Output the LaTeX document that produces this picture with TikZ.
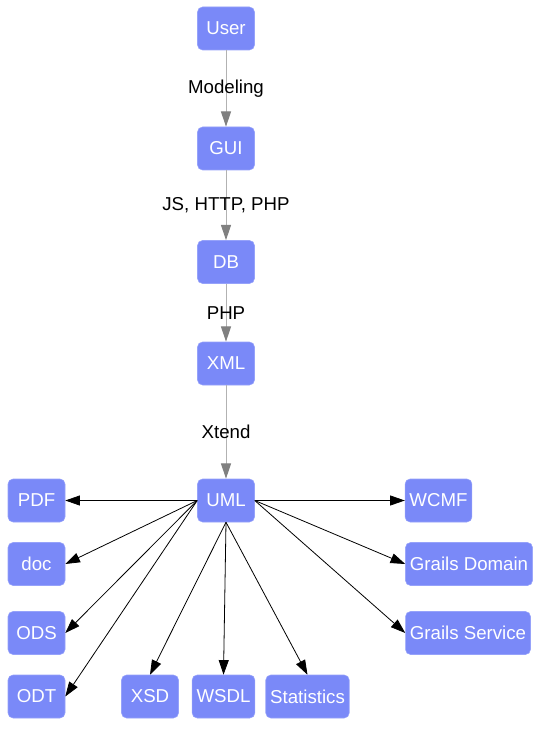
\documentclass[tikz,border=0pt]{standalone}
\usepackage{fontspec}
\setmainfont{Liberation Sans}
\usetikzlibrary{arrows.meta}

\begin{document}
\begin{tikzpicture}[x=0.75pt,y=0.75pt,yscale=-1,xscale=1,
	box/.style={draw={rgb, 255:red, 150; green, 162; blue, 250 },fill={rgb, 255:red, 122; green, 137; blue, 248 },rounded corners=3.75pt,text=white,minimum width=42.75pt,minimum height=32.25pt,inner xsep=3.3pt,font=\fontsize{14}{16}\selectfont},
	flow/.style={color={rgb, 255:red, 178; green, 178; blue, 178 },line width=0.75pt,-{Triangle[length=11.5pt,width=7.5pt,color={rgb, 255:red, 128; green, 128; blue, 128 }]}},
	export/.style={line width=0.6pt,-{Triangle[length=11pt,width=7.5pt]}},
	lbl/.style={text=black,inner sep=0.75pt,font=\fontsize{14}{16}\selectfont}]
		\useasboundingbox (0,0) rectangle (538,730);

		% Text Node
		\draw (226,28.5) node [box] (user) {User};
		% Text Node
		\draw (226,148.5) node [box] (gui) {GUI};
		% Text Node
		\draw (226,262) node [box] (db) {DB};
		% Text Node
		\draw (226,363.5) node [box] (xml) {XML};
		% Text Node
		\draw (226,500.5) node [box] (uml) {UML};
		% Text Node
		\draw (36.5,500.5) node [box] (pdf) {PDF};
		% Text Node
		\draw (36.5,564) node [box] (doc) {doc};
		% Text Node
		\draw (36.5,633) node [box] (ods) {ODS};
		% Text Node
		\draw (36.5,696.5) node [box] (odt) {ODT};
		% Text Node
		\draw (150,696.5) node [box] (xsd) {XSD};
		% Text Node
		\draw (223.5,696.5) node [box] (wsdl) {WSDL};
		% Text Node
		\draw (307.5,696.5) node [box] (stats) {Statistics};
		% Text Node
		\draw (438.5,500.5) node [box] (wcmf) {WCMF};
		% Text Node
		\draw (469,564) node [box] (gdomain) {Grails Domain};
		% Text Node
		\draw (468,633) node [box] (gservice) {Grails Service};

		%Straight Lines
		\draw [flow] (user) -- (gui) node [midway,lbl] (lmodel) {Modeling};
		%Straight Lines
		\draw [flow] (gui) -- (db) node [midway,lbl] (lweb) {JS, HTTP, PHP};
		%Straight Lines
		\draw [flow] (db) -- (xml) node [midway,lbl] (lphp) {PHP};
		%Straight Lines
		\draw [flow] (xml) -- (uml) node [midway,lbl] (lxtend) {Xtend};

		%Straight Lines
		\draw [export] (uml.west) -- (pdf.east) ;
		%Straight Lines
		\draw [export] (uml.west) -- (doc.east) ;
		%Straight Lines
		\draw [export] (uml.west) -- (ods.east) ;
		%Straight Lines
		\draw [export] (uml.west) -- (odt.east) ;
		%Straight Lines
		\draw [export] (uml.south) -- (xsd.north) ;
		%Straight Lines
		\draw [export] (uml.south) -- (wsdl.north) ;
		%Straight Lines
		\draw [export] (uml.south) -- (stats.north) ;
		%Straight Lines
		\draw [export] (uml.east) -- (wcmf.west) ;
		%Straight Lines
		\draw [export] (uml.east) -- (gdomain.west) ;
		%Straight Lines
		\draw [export] (uml.east) -- (gservice.west) ;

\end{tikzpicture}
\end{document}
